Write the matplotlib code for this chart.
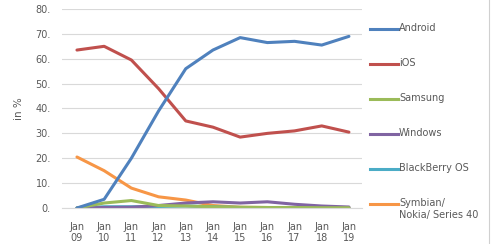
import numpy as np
import matplotlib
matplotlib.use('Agg')
import matplotlib.pyplot as plt
from matplotlib.lines import Line2D

# years shown on the x axis
years = ['09', '10', '11', '12', '13', '14', '15', '16', '17', '18', '19']
tick_labels = ['Jan\n' + y for y in years]

# market share in %
android = [0.0, 3.5, 20.0, 39.0, 56.0, 63.5, 68.5, 66.5, 67.0, 65.5, 69.0]
ios = [63.5, 65.0, 59.5, 48.0, 35.0, 32.5, 28.5, 30.0, 31.0, 33.0, 30.5]
samsung = [0.0, 2.0, 3.0, 1.0, 0.8, 0.5, 0.3, 0.2, 0.2, 0.1, 0.1]
windows = [0.0, 0.2, 0.3, 1.0, 2.0, 2.5, 2.0, 2.5, 1.5, 0.8, 0.4]
blackberry = [0.0, 0.5, 0.5, 0.6, 0.8, 0.5, 0.2, 0.1, 0.1, 0.0, 0.0]
symbian = [20.5, 15.0, 8.0, 4.5, 3.2, 1.0, 0.3, 0.2, 0.1, 0.1, 0.1]

series = [
    ('Android', android, '#4F81BD'),
    ('iOS', ios, '#C0504D'),
    ('Samsung', samsung, '#9BBB59'),
    ('Windows', windows, '#8064A2'),
    ('BlackBerry OS', blackberry, '#4BACC6'),
    ('Symbian/\nNokia/ Series 40', symbian, '#F79646'),
]

txt = '#595959'
fig = plt.figure(figsize=(4.93, 2.44), dpi=100)
ax = fig.add_axes([62 / 493, 1 - 208 / 244, 300 / 493, 199 / 244])

x = np.arange(len(years))
# draw in reverse so Android/iOS are on top
for name, vals, col in series[::-1]:
    ax.plot(x, vals, color=col, lw=2.2, solid_capstyle='round')

ax.set_xlim(-0.55, 10.48)
ax.set_ylim(0, 80)
ax.set_yticks(np.arange(0, 81, 10))
ax.set_yticklabels(['%d.' % v for v in range(0, 81, 10)])
ax.set_xticks(x)
ax.set_xticklabels(tick_labels, linespacing=1.1)
ax.grid(axis='y', color='#D9D9D9', lw=0.8)
ax.set_axisbelow(True)
for s in ['top', 'right', 'left']:
    ax.spines[s].set_visible(False)
ax.spines['bottom'].set_color('#D9D9D9')
ax.tick_params(length=0, labelsize=7, colors=txt, pad=8)
ax.tick_params(axis='x', pad=10)
ax.set_ylabel('in %', fontsize=7.5, color=txt, labelpad=8)

# legend on the right, drawn by hand to match spacing
leg_y = [29, 64, 99, 134, 169, 204]
for (name, vals, col), yy in zip(series, leg_y):
    fy = 1 - yy / 244
    fig.add_artist(Line2D([370 / 493, 398 / 493], [fy, fy], color=col, lw=2.2,
                          transform=fig.transFigure))
    if '\n' in name:
        fig.text(399 / 493, 1 - 198 / 244, name, fontsize=7, color=txt,
                 va='top', linespacing=1.25)
    else:
        fig.text(399 / 493, fy + 0.004, name, fontsize=7, color=txt, va='center')

# right border line
fig.add_artist(Line2D([489 / 493, 489 / 493], [0, 1], color='#D0D0D0', lw=0.8,
                      transform=fig.transFigure))

fig.savefig('out.png', dpi=100)
